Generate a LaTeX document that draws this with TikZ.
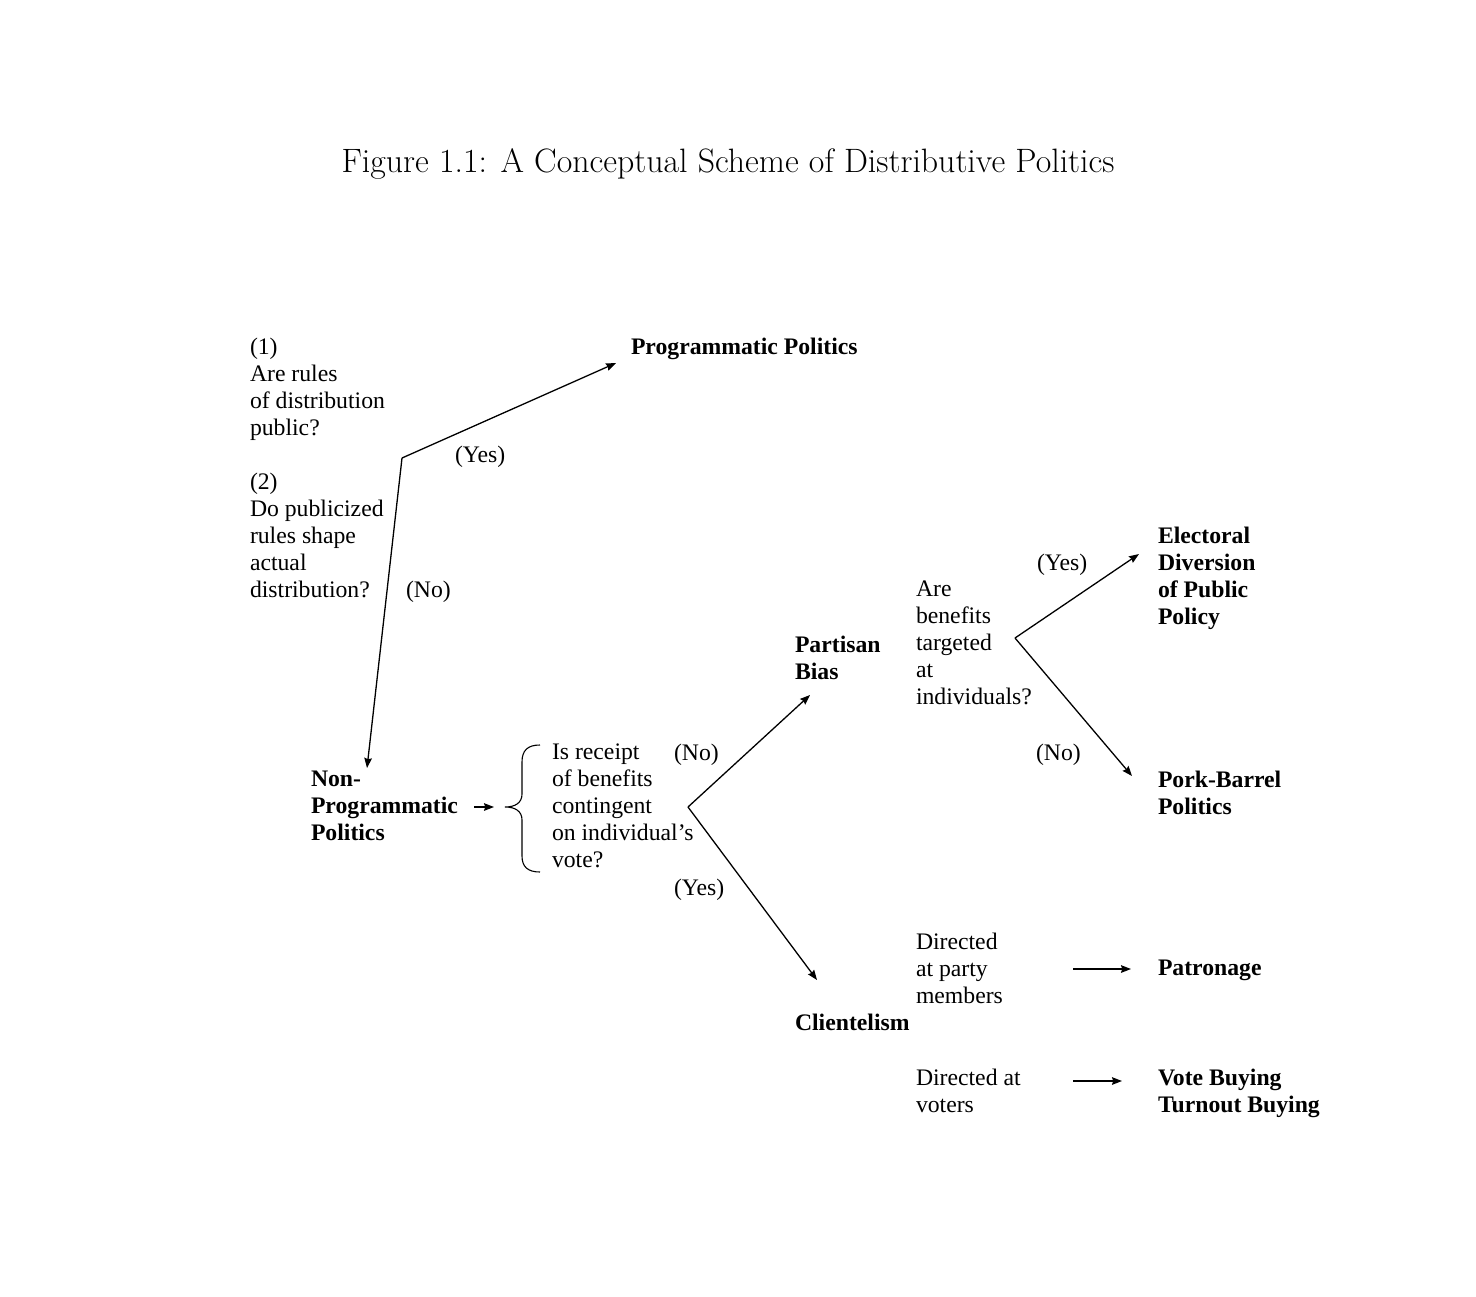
\documentclass[tikz,border=0pt]{standalone}
\usepackage{fontspec}
\usepackage{graphicx}
\newfontfamily\tnr{Liberation Serif}
\usetikzlibrary{arrows.meta}
\begin{document}
\begin{tikzpicture}[x=0.5pt,y=-0.5pt,
  txt/.style={font=\tnr\fontsize{11.85}{13.5}\selectfont, inner sep=0pt, outer sep=0pt, anchor=north west, align=left},
  btxt/.style={txt, font=\tnr\bfseries\fontsize{11.85}{13.5}\selectfont},
  conn/.style={line width=0.65pt, -{Stealth[length=5pt,width=3.8pt,inset=0.6pt]}},
  ]
\useasboundingbox (0,0) rectangle (1476,1296);
\node[anchor=base, inner sep=0pt, font=\fontsize{15.8}{19}\selectfont] (title) at (728,172) {\resizebox{386.5pt}{!}{Figure 1.1: A Conceptual Scheme of Distributive Politics}};

\node[txt] (q1) at (250,338) {(1)\\Are rules\\of distribution\\public?};
\node[txt] (q2) at (250,473) {(2)\\Do publicized\\rules shape\\actual\\distribution?};
\node[btxt] (pp) at (631,338) {Programmatic Politics};
\node[txt] (yes1) at (455,446) {(Yes)};
\node[txt] (no1) at (406,581) {(No)};
\node[btxt] (np) at (311,771) {Non-\\Programmatic\\Politics};
\node[txt] (q3) at (552,744) {Is receipt\\of benefits\\contingent\\on individual’s\\vote?};
\node[txt] (no2) at (674,744) {(No)};
\node[txt] (yes2) at (674,879) {(Yes)};
\node[btxt] (pb) at (795,636) {Partisan\\Bias};
\node[txt] (q4) at (916,581) {Are\\benefits\\targeted\\at\\individuals?};
\node[txt] (yes3) at (1037,554) {(Yes)};
\node[txt] (no3) at (1036,744) {(No)};
\node[btxt] (ed) at (1158,527) {Electoral\\Diversion\\of Public\\Policy};
\node[btxt] (pork) at (1158,771) {Pork-Barrel\\Politics};
\node[btxt] (cl) at (795,1014) {Clientelism};
\node[txt] (d1) at (916,933) {Directed\\at party\\members};
\node[btxt] (pat) at (1158,960) {Patronage};
\node[txt] (d2) at (916,1069) {Directed at\\voters};
\node[btxt] (vb) at (1158,1069) {Vote Buying\\Turnout Buying};

% branch points and arrow ends
\coordinate (b1) at (402,458);
\coordinate (ppin) at (616,363);
\coordinate (npin) at (367,768);
\coordinate (npout) at (474,807);
\coordinate (brtip) at (505,807);
\coordinate (brin) at (494,807);
\coordinate (b2) at (688,807);
\coordinate (pbin) at (810,695);
\coordinate (clin) at (817,980);
\coordinate (b3) at (1015,638);
\coordinate (edin) at (1139,554);
\coordinate (porkin) at (1132,776);
\coordinate (d1out) at (1073,969);
\coordinate (patin) at (1131,969);
\coordinate (d2out) at (1073,1081);
\coordinate (vbin) at (1122,1081);

\draw[conn] (b1) -- (ppin);
\draw[conn] (b1) -- (npin);
\draw[conn] (npout) -- (brin);
\draw[line width=0.55pt] (540,745) .. controls (528,745) and (522,750) .. (522,762) -- (522,794)
  .. controls (522,803) and (515,807) .. (brtip)
  .. controls (515,807) and (522,811) .. (522,820) -- (522,856)
  .. controls (522,867) and (528,872) .. (540,872);
\draw[conn] (b2) -- (pbin);
\draw[conn] (b2) -- (clin);
\draw[conn] (b3) -- (edin);
\draw[conn] (b3) -- (porkin);
\draw[conn] (d1out) -- (patin);
\draw[conn] (d2out) -- (vbin);
\end{tikzpicture}
\end{document}
